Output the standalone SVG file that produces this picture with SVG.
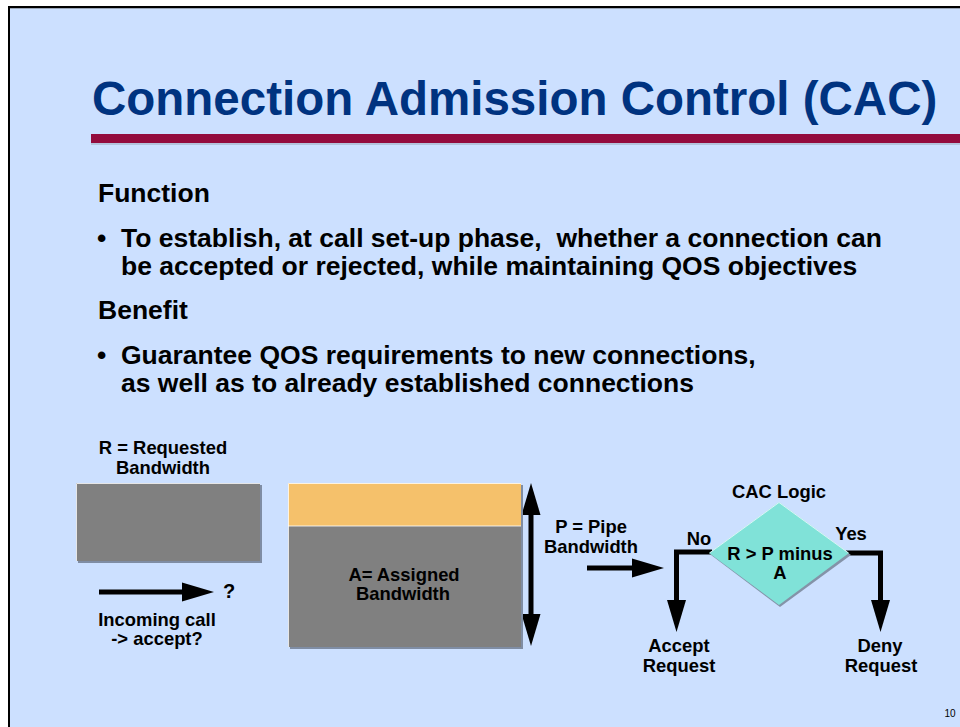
<svg xmlns="http://www.w3.org/2000/svg" width="960" height="727" viewBox="0 0 960 727">
  <defs>
    <style>
      text { font-family: "Liberation Sans", Arial, sans-serif; font-weight: bold; fill: #000; }
      .title { font-size: 47.5px; fill: #003380; }
      .body { font-size: 26.5px; }
      .lbl { font-size: 18.4px; text-anchor: middle; }
      .wire { fill: none; stroke: #000; stroke-width: 5; stroke-linejoin: miter; }
      .shadow { fill: #7F8DA4; }
      .edge { fill: none; stroke: #FFFFFF; stroke-width: 1; stroke-opacity: 0.8; }
    </style>
    <marker id="head" markerUnits="userSpaceOnUse" markerWidth="33" markerHeight="20" refX="0" refY="9.5" orient="auto-start-reverse" overflow="visible">
      <path d="M0,0 L32,9.5 L0,19 Z" fill="#000"/>
    </marker>
  </defs>

  <!-- slide frame -->
  <rect x="0" y="0" width="960" height="727" fill="#FFFFFF"/>
  <rect x="9" y="7" width="951" height="720" fill="#CCE0FF"/>
  <line x1="8" y1="7" x2="960" y2="7" stroke="#000" stroke-width="2"/>
  <line x1="9" y1="6" x2="9" y2="727" stroke="#000" stroke-width="2"/>
  <line x1="10" y1="8.5" x2="960" y2="8.5" stroke="#9AA6B8" stroke-width="1"/>

  <!-- heading -->
  <g id="heading">
    <text class="title" x="92" y="115">Connection Admission Control (CAC)</text>
    <rect x="91" y="134" width="869" height="9" fill="#930B3D"/>
    <line x1="91" y1="144" x2="960" y2="144" stroke="#9AA6B8" stroke-width="1"/>
  </g>

  <!-- bullet text -->
  <g id="body-text" class="body">
    <text class="body" x="98" y="202">Function</text>
    <text class="body" x="97" y="247">•</text>
    <text class="body" x="121" y="247" xml:space="preserve">To establish, at call set-up phase,  whether a connection can</text>
    <text class="body" x="121" y="275">be accepted or rejected, while maintaining QOS objectives</text>
    <text class="body" x="98" y="319">Benefit</text>
    <text class="body" x="97" y="364">•</text>
    <text class="body" x="121" y="364">Guarantee QOS requirements to new connections,</text>
    <text class="body" x="121" y="392">as well as to already established connections</text>
  </g>

  <!-- connectors -->
  <g id="connectors">
    <path class="wire" d="M99,592 H182" marker-end="url(#head)"/>
    <path class="wire" d="M587,568 H632" marker-end="url(#head)"/>
    <path class="wire" d="M531,515 V614" marker-start="url(#head)" marker-end="url(#head)"/>
    <path class="wire" d="M712,552 H676.5 V600" marker-end="url(#head)"/>
    <path class="wire" d="M846,553 H880.5 V600" marker-end="url(#head)"/>
  </g>

  <!-- requested bandwidth block -->
  <g id="requested">
    <text class="lbl" x="163" y="454">R = Requested</text>
    <text class="lbl" x="163" y="474">Bandwidth</text>
    <rect class="shadow" x="78" y="485" width="184" height="78"/>
    <rect x="76" y="483" width="184" height="78" fill="#808080"/>
    <path class="edge" d="M76.5,561 V483.5 H260"/>
  </g>

  <g id="incoming">
    <text x="223" y="598" style="font-size:20px">?</text>
    <text class="lbl" x="157" y="626">Incoming call</text>
    <text class="lbl" x="157" y="645">-&gt; accept?</text>
  </g>

  <!-- pipe with assigned and free bandwidth -->
  <g id="pipe">
    <rect class="shadow" x="290" y="485" width="233" height="164"/>
    <rect x="288" y="483" width="233" height="43" fill="#F5C16B"/>
    <rect x="288" y="526" width="233" height="121" fill="#808080"/>
    <line x1="288" y1="526" x2="521" y2="526" stroke="#FFFFFF" stroke-width="1" stroke-opacity="0.8"/>
    <path class="edge" d="M288.5,647 V483.5 H521"/>
    <text class="lbl" x="404" y="581">A= Assigned</text>
    <text class="lbl" x="403" y="600">Bandwidth</text>
  </g>

  <g id="pipe-label">
    <text class="lbl" x="591" y="533">P = Pipe</text>
    <text class="lbl" x="591" y="553">Bandwidth</text>
  </g>

  <!-- decision -->
  <g id="cac-logic">
    <text class="lbl" x="779" y="498">CAC Logic</text>
    <polygon points="780,504 851,555 780,607 711,555" fill="#8493A8"/>
    <polygon points="779,502 849,553 779,605 709,553" fill="#80E2D8"/>
    <path d="M709.5,553 L779,502.5 L848.5,553" fill="none" stroke="#FFFFFF" stroke-width="1" stroke-opacity="0.7"/>
    <text class="lbl" x="780" y="560">R &gt; P minus</text>
    <text class="lbl" x="780" y="579">A</text>
  </g>

  <g id="no-branch">
    <text class="lbl" x="699" y="545">No</text>
    <text class="lbl" x="679" y="652">Accept</text>
    <text class="lbl" x="679" y="672">Request</text>
  </g>

  <g id="yes-branch">
    <text class="lbl" x="851" y="540">Yes</text>
    <text class="lbl" x="880" y="652">Deny</text>
    <text class="lbl" x="881" y="672">Request</text>
  </g>

  <text x="950" y="717" style="font-size:10px;font-weight:normal;text-anchor:middle">10</text>
</svg>
